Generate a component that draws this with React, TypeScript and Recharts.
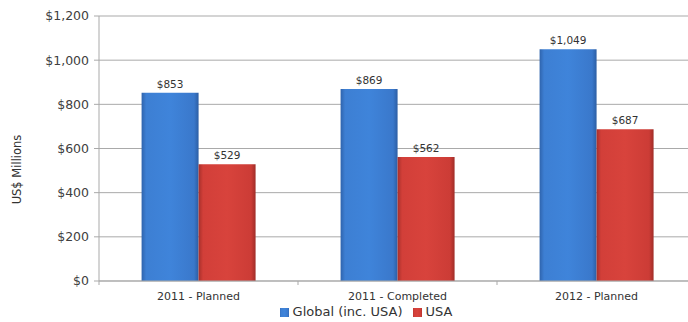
import { BarChart, Bar, XAxis, YAxis, CartesianGrid, Legend, LabelList } from 'recharts'

document.body.style.margin = '0'

const categories = ['2011 - Planned', '2011 - Completed', '2012 - Planned']
const globalSpend = [853, 869, 1049]
const usaSpend = [529, 562, 687]
const yTicks = [0, 200, 400, 600, 800, 1000, 1200]

const data = categories.map((name, i) => ({ name, global: globalSpend[i], usa: usaSpend[i] }))

const money = (v: number) => '$' + v.toLocaleString('en-US')

const FONT = '"DejaVu Sans", sans-serif'
const TEXT = '#333333'
const GRID = '#a9a9a9'
const X_TICK_GAP = 11

const AxisTitle = ({ viewBox }: any) => {
  const x = viewBox.x + 17
  const y = viewBox.y + viewBox.height / 2 + 21
  return (
    <text
      x={x}
      y={y}
      transform={`rotate(-90 ${x} ${y})`}
      textAnchor="middle"
      dominantBaseline="central"
      fill={TEXT}
      fontSize={11.5}
      fontFamily={FONT}
    >
      US$ Millions
    </text>
  )
}

// category label plus the little tick marks that sit on the band edges
const CategoryTick = ({ x, y, payload, index, visibleTicksCount }: any) => {
  const half = payload.offset || 0
  const axisY = y - X_TICK_GAP
  const last = index === visibleTicksCount - 1
  return (
    <g>
      <line x1={x - half} x2={x - half} y1={axisY} y2={axisY + 4} stroke={GRID} />
      {last && <line x1={x + half} x2={x + half} y1={axisY} y2={axisY + 4} stroke={GRID} />}
      <text x={x} y={y} dy="0.71em" textAnchor="middle" fill={TEXT} fontSize={11} fontFamily={FONT}>
        {payload.value}
      </text>
    </g>
  )
}

export default function App() {
  return (
    <div style={{ width: 688, height: 322, overflow: 'hidden', background: '#fff' }}>
      <BarChart
        width={696}
        height={322}
        data={data}
        margin={{ top: 16, right: 0, bottom: 0, left: 0 }}
        barCategoryGap="21.4%"
        barGap={0}
      >
        <defs>
          <linearGradient id="blueBar" x1="0" y1="0" x2="1" y2="0">
            <stop offset="0%" stopColor="#2f64ad" />
            <stop offset="8%" stopColor="#3d7fd3" />
            <stop offset="50%" stopColor="#3f84da" />
            <stop offset="92%" stopColor="#3a78cb" />
            <stop offset="100%" stopColor="#2c5ea4" />
          </linearGradient>
          <linearGradient id="redBar" x1="0" y1="0" x2="1" y2="0">
            <stop offset="0%" stopColor="#a8302b" />
            <stop offset="8%" stopColor="#d23f39" />
            <stop offset="50%" stopColor="#d8433c" />
            <stop offset="92%" stopColor="#cc3c36" />
            <stop offset="100%" stopColor="#a02d28" />
          </linearGradient>
        </defs>
        <CartesianGrid vertical={false} stroke={GRID} />
        <XAxis
          dataKey="name"
          height={23}
          stroke={GRID}
          tickLine={false}
          tickSize={0}
          tickMargin={X_TICK_GAP}
          interval={0}
          tick={<CategoryTick />}
        />
        <YAxis
          width={99}
          domain={[0, 1200]}
          ticks={yTicks}
          tickFormatter={money}
          stroke={GRID}
          tickSize={5}
          tick={{ fill: '#404040', fontSize: 12.5, fontFamily: FONT }}
          tickMargin={5}
          label={<AxisTitle />}
        />
        <Legend
          height={18}
          iconType="square"
          iconSize={9}
          wrapperStyle={{ fontSize: 13, fontFamily: FONT, left: 23 }}
          formatter={(value) => <span style={{ color: TEXT }}>{value}</span>}
        />
        <Bar dataKey="global" name="Global (inc. USA)" fill="url(#blueBar)" legendType="square" isAnimationActive={false}>
          <LabelList dataKey="global" position="top" formatter={(v: any) => money(Number(v))} style={{ fill: TEXT, fontSize: 10.5, fontFamily: FONT }} />
        </Bar>
        <Bar dataKey="usa" name="USA" fill="url(#redBar)" legendType="square" isAnimationActive={false}>
          <LabelList dataKey="usa" position="top" formatter={(v: any) => money(Number(v))} style={{ fill: TEXT, fontSize: 10.5, fontFamily: FONT }} />
        </Bar>
      </BarChart>
    </div>
  )
}
